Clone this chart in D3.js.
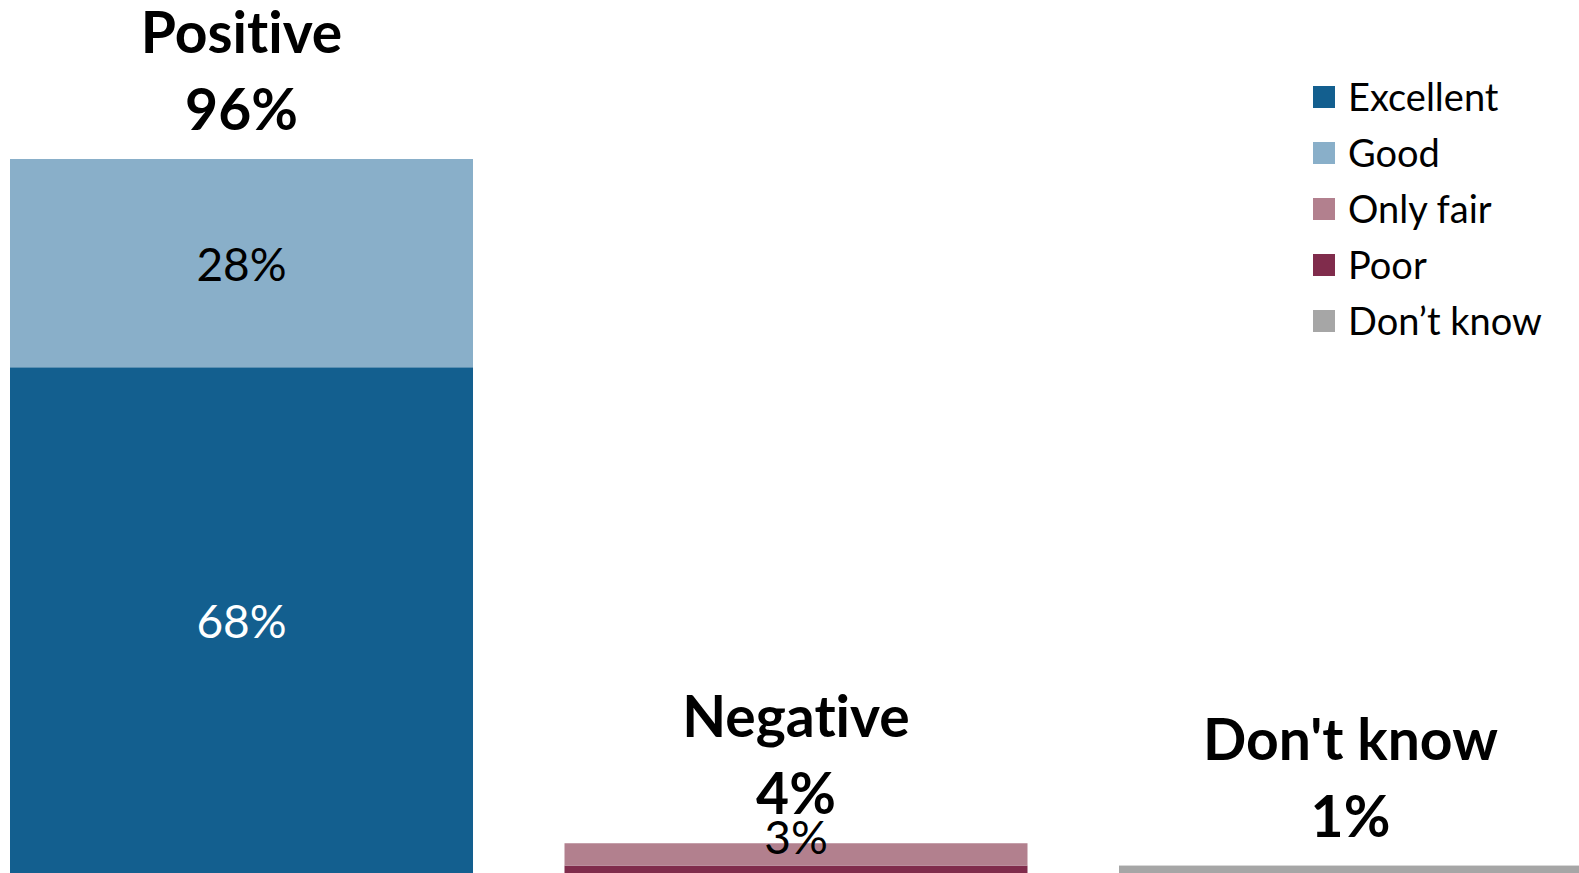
<!DOCTYPE html>
<html>
<head>
<meta charset="utf-8">
<script src="https://cdn.jsdelivr.net/npm/d3@7"></script>
<style>
  html, body { margin: 0; padding: 0; background: #fff; overflow: hidden; }
  svg { display: block; font-family: Lato, "Noto Sans", sans-serif; font-variant-ligatures: none; font-feature-settings: "liga" 0; }
</style>
</head>
<body>
<svg id="chart" width="1579" height="873"></svg>
<script>
// ---- data ----
const categories = ["Positive", "Negative", "Don't know"];
const totals = [96, 4, 1];
const seriesNames = ["Excellent", "Good", "Only fair", "Poor", "Don\u2019t know"];
const excellent = [68, 0, 0];
const good = [28, 0, 0];
const onlyFair = [0, 3, 0];
const poor = [0, 1, 0];
const dontKnow = [0, 0, 1];
const colors = ["#135F8F", "#89AFC9", "#B2808E", "#802C4C", "#A6A6A6"];
const labelled = ["Excellent", "Good", "Only fair"];

const seriesValues = { "Excellent": excellent, "Good": good, "Only fair": onlyFair, "Poor": poor, "Don\u2019t know": dontKnow };

const table = categories.map((c, i) => {
  const row = { category: c, total: totals[i] };
  seriesNames.forEach(s => row[s] = seriesValues[s][i]);
  return row;
});

const W = 1579, H = 873;
const svg = d3.select("#chart");

const x = d3.scaleBand().domain(categories).range([10, 1582]).paddingInner(0.165).paddingOuter(0);
const y = d3.scaleLinear().domain([0, 100]).range([H, H - 743.75]);
const color = d3.scaleOrdinal().domain(seriesNames).range(colors);

// stack: Poor sits below Only fair
const stackKeys = ["Excellent", "Good", "Poor", "Only fair", "Don\u2019t know"];
const stacked = d3.stack().keys(stackKeys)(table);

const g = svg.append("g");
stacked.forEach(layer => {
  g.selectAll(null).data(layer.filter(d => d[1] > d[0])).enter().append("rect")
    .attr("x", d => x(d.data.category))
    .attr("width", x.bandwidth())
    .attr("y", d => y(d[1]))
    .attr("height", d => y(d[0]) - y(d[1]))
    .attr("fill", color(layer.key));
});

// segment labels
stacked.filter(l => labelled.includes(l.key)).forEach(layer => {
  g.selectAll(null).data(layer.filter(d => d[1] > d[0])).enter().append("text")
    .attr("x", d => x(d.data.category) + x.bandwidth() / 2)
    .attr("y", d => {
      const top = y(d[1]), bot = y(d[0]);
      const mid = (top + bot) / 2;
      return (bot - top) < 40 ? mid : mid + 18;
    })
    .attr("text-anchor", "middle")
    .attr("font-size", 46)
    .attr("fill", layer.key === "Excellent" ? "#fff" : "#000")
    .text(d => (d[1] - d[0]) + "%");
});

// category headings
const heads = g.selectAll(null).data(table).enter();
heads.append("text")
  .attr("x", d => x(d.category) + x.bandwidth() / 2)
  .attr("y", d => y(d.total) - 106)
  .attr("text-anchor", "middle")
  .attr("font-size", 57).attr("font-weight", "bold").attr("fill", "#000")
  .text(d => d.category);
heads.append("text")
  .attr("x", d => x(d.category) + x.bandwidth() / 2)
  .attr("y", d => y(d.total) - 29)
  .attr("text-anchor", "middle")
  .attr("font-size", 57).attr("font-weight", "bold").attr("fill", "#000")
  .text(d => d.total + "%");

// legend
const legend = svg.append("g").attr("transform", "translate(1313,97)");
const items = legend.selectAll("g").data(seriesNames).enter().append("g")
  .attr("transform", (d, i) => `translate(0,${i * 56})`);
items.append("rect").attr("x", 0).attr("y", -11).attr("width", 22).attr("height", 22)
  .attr("fill", d => color(d));
items.append("text").attr("x", 35).attr("y", 14)
  .attr("font-size", 38).attr("fill", "#000")
  .text(d => d);
</script>
</body>
</html>
